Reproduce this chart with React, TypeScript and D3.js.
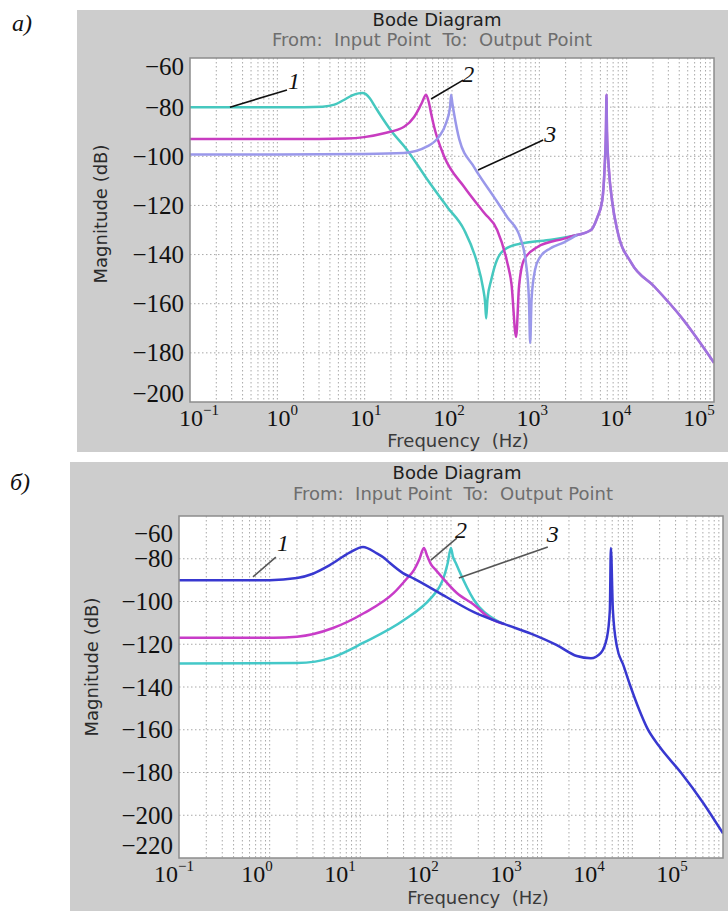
import React from "react";
import * as d3 from "d3";

type Pt = [number, number];

// ---------- data ----------
const freqTickValues = [1e-1, 1e0, 1e1, 1e2, 1e3, 1e4, 1e5];
const freqTickExponents = ["−1", "0", "1", "2", "3", "4", "5"];
const magTicksA = [-60, -80, -100, -120, -140, -160, -180, -200];
const magTicksB = [-60, -80, -100, -120, -140, -160, -180, -200, -220];

// Panel а) — curves 1 (cyan), 2 (magenta), 3 (lavender); [Hz, dB]
const curveA1: Pt[] = [
  [0.1, -80], [0.3, -80], [1, -80], [2, -80], [3.3, -79.8], [4.5, -79], [5.7, -77.2],
  [7.2, -75.2], [8.5, -74.4], [9.4, -74.2], [10.3, -74.7], [11.5, -76.5], [13, -79.5],
  [15, -83], [20, -89.5], [30.6, -97.4], [50, -108.5], [88, -120.6], [138, -130],
  [194, -143.4], [225, -153], [240, -160], [246, -166], [255, -158], [281, -150.4],
  [329, -142], [428, -137.3], [670, -135.3], [1365, -134], [2700, -132],
];
const curveA2: Pt[] = [
  [0.1, -93], [1, -93], [3, -93], [6, -92.8], [9.85, -92.2], [16.7, -90.6], [28.3, -88],
  [36.8, -84], [42, -80.5], [45.5, -78], [50.5, -75], [54.7, -78.5], [58, -83], [62.4, -88],
  [81.2, -100], [138, -112.5], [233, -123], [329, -130], [428, -143], [480, -152],
  [542, -173.5], [585, -153], [670, -142], [944, -137], [1920, -133.5], [2700, -132],
];
const curveA3: Pt[] = [
  [0.1, -99.3], [1, -99.3], [10, -99.1], [28, -98.7], [51.9, -96], [71, -92], [85.5, -86.5],
  [95, -80], [97.7, -75], [101, -78.5], [106, -83], [121, -93], [179, -104.4], [303, -116.6],
  [428, -124.7], [602, -133], [700, -143], [760, -158], [785, -176], [815, -158],
  [896, -146], [1020, -141], [1330, -137.5], [1920, -135], [2700, -132],
];
// merged high-frequency part shared by the curves of panel а)
const tailA: Pt[] = [
  [2700, -132], [3900, -130], [4600, -125], [5250, -118], [5600, -104], [5800, -88],
  [5870, -75], [5950, -90], [6250, -105], [6800, -118], [7800, -130], [11300, -143.4],
  [20700, -153], [42000, -165.4], [100000, -184],
];

// Panel б) — curves 1 (blue), 2 (magenta), 3 (cyan)
const curveB1: Pt[] = [
  [0.1, -90], [1, -90], [2, -89], [3, -87], [4.6, -83], [7.7, -77], [10.7, -74.5],
  [15.2, -77.5], [18.2, -79.5], [21.2, -82], [29.5, -86.7], [39, -89.3], [90, -98],
  [179, -105], [383, -110.5], [760, -115], [1470, -120.4], [2440, -125.5], [3490, -126.5],
  [4500, -124], [5240, -117], [5650, -104], [5800, -75], [6100, -104], [6750, -121],
  [8000, -130], [9600, -140], [12000, -151], [14500, -159], [20000, -168], [34300, -180],
  [60000, -194], [100000, -208.5],
];
const curveB2: Pt[] = [
  [0.1, -117], [1.1, -117], [2, -116.5], [5, -112.4], [10.9, -105.5], [23.4, -96],
  [33, -89], [39, -85.3], [45, -80], [50.2, -75], [55, -79], [60, -82.5], [68.2, -85.3],
  [116, -96], [179, -101.5], [268, -107.8], [383, -110.5],
];
const curveB3: Pt[] = [
  [0.1, -129], [2, -128.8], [5, -126], [10.7, -119.4], [30.3, -108.7], [60, -98.4],
  [75, -93], [83.5, -88.5], [92, -82], [99.8, -75], [105, -79], [113, -82], [122, -85.3],
  [179, -99.3], [305, -108.5], [383, -110.5],
];

// annotation leaders: [label, startHz, startDb, endHz, endDb, labelHz, labelDb]
const notesA: [string, number, number, number, number, number, number][] = [
  ["1", 0.287, -80, 1.29, -73, 1.55, -69.4],
  ["2", 57.6, -76.7, 134, -69, 153, -66.5],
  ["3", 199, -105.6, 1107, -93.4, 1331, -91],
];
const notesB: [string, number, number, number, number, number, number][] = [
  ["1", 0.655, -88.5, 1.17, -79.2, 1.4, -72.6],
  ["2", 60, -80.6, 116, -70.3, 129, -66.5],
  ["3", 122, -89, 1170, -74.5, 1327, -68.4],
];

// ---------- drawing ----------
type Series = { pts: Pt[]; color: string; opacity?: number };

type PanelProps = {
  tag: string;
  tagX: number;
  tagY: number;
  panel: [number, number, number, number];
  plot: { l: number; t: number; r: number; b: number };
  yDomain: [number, number];
  magTicks: number[];
  labelRange: [number, number];
  clampTop: number;
  clampBottom: number;
  xLabelBaseline: number;
  titleX: number;
  titleY: number;
  subX: number;
  subY: number;
  xTitleX: number;
  xTitleY: number;
  yTitleX: number;
  yTitleY: number;
  series: Series[];
  notes: [string, number, number, number, number, number, number][];
  noteColor: string;
};

const serif = "'Liberation Serif', 'Times New Roman', serif";
const sans = "'DejaVu Sans', Verdana, sans-serif";

function Panel(p: PanelProps) {
  const { plot } = p;
  const x = d3.scaleLog().domain([1e-1, 1e5]).range([plot.l, plot.r]);
  const y = d3.scaleLinear().domain(p.yDomain).range([plot.b, plot.t]);
  const xl = d3.scaleLog().domain([1e-1, 1e5]).range(p.labelRange);
  const line = d3
    .line<Pt>()
    .x((d) => x(d[0]))
    .y((d) => y(d[1]))
    .curve(d3.curveMonotoneX);
  const vTicks = x.ticks().filter((v) => v > 1e-1 * 1.001 && v < 1e5 * 0.999);
  const hTicks = p.magTicks.filter((v) => v > p.yDomain[0] && v < p.yDomain[1]);
  const clipId = "clip" + p.tag.charCodeAt(0);
  return (
    <g>
      <rect x={p.panel[0]} y={p.panel[1]} width={p.panel[2]} height={p.panel[3]} fill="#cdcdcd" />
      <rect x={plot.l} y={plot.t} width={plot.r - plot.l} height={plot.b - plot.t} fill="#ffffff" />
      <defs>
        <clipPath id={clipId}>
          <rect x={plot.l} y={plot.t} width={plot.r - plot.l} height={plot.b - plot.t} />
        </clipPath>
      </defs>
      <g stroke="#a9a9a9" strokeWidth={1} strokeDasharray="1.5 2.5">
        {vTicks.map((v, i) => (
          <line key={"v" + i} x1={x(v)} x2={x(v)} y1={plot.t} y2={plot.b} />
        ))}
        {hTicks.map((v, i) => (
          <line key={"h" + i} x1={plot.l} x2={plot.r} y1={y(v)} y2={y(v)} />
        ))}
      </g>
      <g clipPath={`url(#${clipId})`} fill="none" strokeWidth={2.5} strokeLinejoin="round">
        {p.series.map((s, i) => (
          <path key={i} d={line(s.pts) || ""} stroke={s.color} strokeOpacity={s.opacity ?? 1} />
        ))}
      </g>
      <rect
        x={plot.l}
        y={plot.t}
        width={plot.r - plot.l}
        height={plot.b - plot.t}
        fill="none"
        stroke="#8c8c8c"
        strokeWidth={1.5}
      />
      {/* y tick labels */}
      {p.magTicks.map((v, i) => {
        let yy = y(v);
        yy = Math.max(yy, plot.t + p.clampTop);
        yy = Math.min(yy, plot.b - p.clampBottom);
        return (
          <text
            key={"yt" + i}
            x={plot.l - 6}
            y={yy}
            textAnchor="end"
            dominantBaseline="central"
            fontFamily={serif}
            fontSize={25}
            fill="#111"
          >
            {"−" + Math.abs(v)}
          </text>
        );
      })}
      {/* x tick labels */}
      {freqTickValues.map((v, i) => (
        <text
          key={"xt" + i}
          x={xl(v)}
          y={p.xLabelBaseline}
          textAnchor="middle"
          fontFamily={serif}
          fontSize={24}
          fill="#111"
        >
          10
          <tspan dy={-11} fontSize={15}>
            {freqTickExponents[i]}
          </tspan>
        </text>
      ))}
      <text x={p.titleX} y={p.titleY} textAnchor="middle" fontFamily={sans} fontSize={18} fill="#1e1e1e">
        Bode Diagram
      </text>
      <text
        x={p.subX}
        y={p.subY}
        textAnchor="middle"
        fontFamily={sans}
        fontSize={18}
        fill="#6e6e6e"
        style={{ whiteSpace: "pre" }}
      >
        {"From:  Input Point  To:  Output Point"}
      </text>
      <text
        x={p.xTitleX}
        y={p.xTitleY}
        textAnchor="middle"
        fontFamily={sans}
        fontSize={18}
        fill="#3a3a3a"
        style={{ whiteSpace: "pre" }}
      >
        {"Frequency  (Hz)"}
      </text>
      <text
        transform={`translate(${p.yTitleX},${p.yTitleY}) rotate(-90)`}
        textAnchor="middle"
        fontFamily={sans}
        fontSize={18}
        fill="#2a2a2a"
      >
        Magnitude (dB)
      </text>
      {/* annotations */}
      {p.notes.map((n, i) => (
        <g key={"n" + i}>
          <line
            x1={x(n[1])}
            y1={y(n[2])}
            x2={x(n[3])}
            y2={y(n[4])}
            stroke={p.noteColor}
            strokeWidth={1.6}
          />
          <text
            x={x(n[5])}
            y={y(n[6])}
            textAnchor="middle"
            dominantBaseline="central"
            fontFamily={serif}
            fontStyle="italic"
            fontSize={24}
            fill="#111"
          >
            {n[0]}
          </text>
        </g>
      ))}
      <text x={p.tagX} y={p.tagY} fontFamily={serif} fontStyle="italic" fontSize={24} fill="#111">
        {p.tag}
      </text>
    </g>
  );
}

export default function App() {
  return (
    <svg width={728} height={911} style={{ position: "absolute", left: 0, top: 0, background: "#fff" }}>
      <Panel
        tag="а)"
        tagX={12}
        tagY={31}
        panel={[77, 10, 651, 442]}
        plot={{ l: 190, t: 58, r: 714, b: 402 }}
        yDomain={[-200, -60]}
        magTicks={magTicksA}
        labelRange={[199, 699]}
        clampTop={8}
        clampBottom={9}
        xLabelBaseline={426}
        titleX={437}
        titleY={26}
        subX={432}
        subY={46}
        xTitleX={458}
        xTitleY={447}
        yTitleX={107}
        yTitleY={214}
        series={[
          { pts: curveA1, color: "#46c8bf" },
          { pts: curveA2, color: "#c83cc0" },
          { pts: tailA, color: "#c83cc0" },
          { pts: curveA3, color: "#9a98ea" },
          { pts: tailA, color: "#8f86ea", opacity: 0.75 },
        ]}
        notes={notesA}
        noteColor="#111"
      />
      <Panel
        tag="б)"
        tagX={10}
        tagY={490}
        panel={[70, 462, 658, 449]}
        plot={{ l: 179, t: 516, r: 723, b: 858 }}
        yDomain={[-220, -60]}
        magTicks={magTicksB}
        labelRange={[174, 672]}
        clampTop={17}
        clampBottom={13}
        xLabelBaseline={882}
        titleX={457}
        titleY={479}
        subX={453}
        subY={500}
        xTitleX={478}
        xTitleY={904}
        yTitleX={98}
        yTitleY={667}
        series={[
          { pts: curveB3, color: "#44c8c8" },
          { pts: curveB2, color: "#c83cc8" },
          { pts: curveB1, color: "#3838d0" },
        ]}
        notes={notesB}
        noteColor="#555"
      />
    </svg>
  );
}
